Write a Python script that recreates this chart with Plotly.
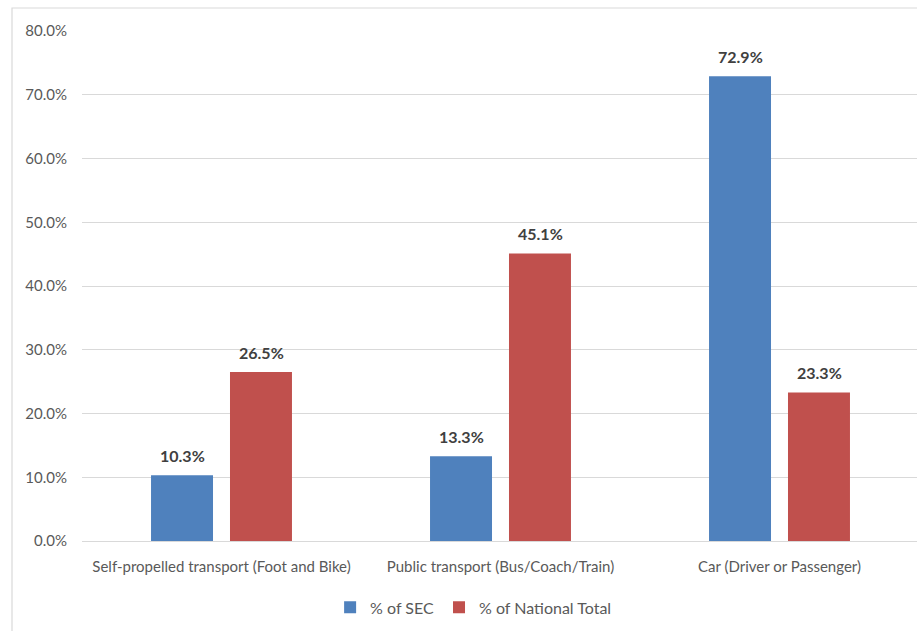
import plotly.graph_objects as go

categories = ["Self-propelled transport (Foot and Bike)",
              "Public transport (Bus/Coach/Train)",
              "Car (Driver or Passenger)"]
sec_values = [0.103, 0.133, 0.729]
national_values = [0.265, 0.451, 0.233]
series_names = ["% of SEC", "% of National Total"]
y_ticks = [0, 0.1, 0.2, 0.3, 0.4, 0.5, 0.6, 0.7, 0.8]

BLUE = "#4F81BD"
RED = "#C0504D"
FONT = "Lato, 'Open Sans', sans-serif"

fig = go.Figure()
fig.add_trace(go.Bar(x=categories, y=sec_values, name=series_names[0],
                     marker=dict(color=BLUE, line=dict(width=0))))
fig.add_trace(go.Bar(x=categories, y=national_values, name=series_names[1],
                     marker=dict(color=RED, line=dict(width=0))))

annotations = []
for vals, shift in [(sec_values, -39.5), (national_values, 39.5)]:
    for c, v in zip(categories, vals):
        annotations.append(dict(x=c, y=v, xref="x", yref="y", text=f"<b>{v*100:.1f}%</b>",
                                showarrow=False, xshift=shift, yshift=8, yanchor="bottom",
                                font=dict(family=FONT, size=16, color="#404040")))

fig.update_layout(
    width=917, height=631,
    margin=dict(l=82, r=0, t=31, b=90),
    paper_bgcolor="white", plot_bgcolor="white",
    barmode="group", bargap=0.434, bargroupgap=0.215,
    font=dict(family=FONT, size=15, color="#595959"),
    showlegend=True,
    legend=dict(orientation="h", x=0.469, xanchor="center", y=-0.097, yanchor="top",
                font=dict(family=FONT, size=16, color="#595959"), itemwidth=30,
                traceorder="normal"),
    annotations=annotations,
    shapes=[dict(type="rect", xref="paper", yref="paper",
                 x0=(12-82)/835, x1=1.2, y0=-0.5, y1=(541-8)/510,
                 line=dict(color="#d9d9d9", width=1.2), layer="below")],
)
fig.update_xaxes(range=[-0.5, 2.5 - 2/279], showgrid=False, showline=False,
                 ticks="", ticklabelstandoff=15,
                 tickfont=dict(family=FONT, size=15, color="#595959"))
fig.update_yaxes(range=[0, 0.8], tickvals=y_ticks, tickformat=".1%",
                 showgrid=True, gridcolor="#d9d9d9", gridwidth=1.2, zeroline=True,
                 zerolinecolor="#d9d9d9", zerolinewidth=1.2, showline=False,
                 ticks="", ticklabelstandoff=14,
                 tickfont=dict(family=FONT, size=15, color="#595959"))

fig.write_html("out.html")
